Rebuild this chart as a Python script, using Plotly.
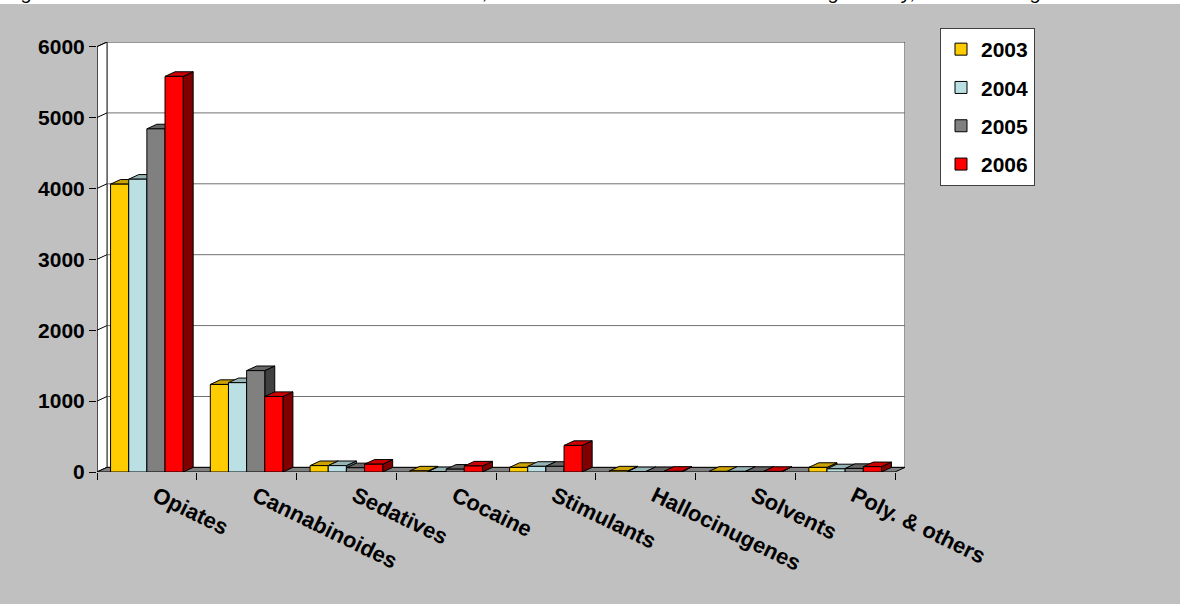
import plotly.graph_objects as go

# ---- data -------------------------------------------------------------
categories = ["Opiates", "Cannabinoides", "Sedatives", "Cocaine", "Stimulants",
              "Hallocinugenes", "Solvents", "Poly. & others"]
years = ["2003", "2004", "2005", "2006"]
values_2003 = [4060, 1235, 90, 15, 65, 15, 10, 65]
values_2004 = [4130, 1260, 90, 5, 80, 5, 10, 45]
values_2005 = [4840, 1430, 60, 40, 80, 5, 8, 50]
values_2006 = [5580, 1065, 110, 85, 375, 10, 8, 75]
y_ticks = [0, 1000, 2000, 3000, 4000, 5000, 6000]

series = [values_2003, values_2004, values_2005, values_2006]

# ---- styling ----------------------------------------------------------
front_colors = ["#FFCC00", "#BBE0E3", "#808080", "#FF0000"]
top_colors = ["#CCA300", "#96B3B6", "#666666", "#CC0000"]
side_colors = ["#806600", "#5E7072", "#404040", "#800000"]
BG = "#C0C0C0"
FONT = "Liberation Sans, Arial, sans-serif"

N = len(categories)
GROUP = 0.728            # width of a cluster, in category units
BW = GROUP / len(years)  # width of one column
DX = 0.1                 # depth offset (category units)
DY = 65                  # depth offset (value units)
X_LO, X_HI = -0.5, N - 0.5 + DX
Y_MAX = y_ticks[-1] + DY

fig = go.Figure()

# pseudo-3D columns: side face, top face, then front face for each year
for s, vals in enumerate(series):
    sx, sy, tx, ty, fx, fy = [], [], [], [], [], []
    for i, v in enumerate(vals):
        x0 = i - GROUP / 2 + s * BW
        x1 = x0 + BW
        sx += [x1, x1 + DX, x1 + DX, x1, x1, None]
        sy += [0, DY, v + DY, v, 0, None]
        tx += [x0, x1, x1 + DX, x0 + DX, x0, None]
        ty += [v, v, v + DY, v + DY, v, None]
        fx += [x0, x1, x1, x0, x0, None]
        fy += [0, 0, v, v, 0, None]
    for px, py, col in ((sx, sy, side_colors[s]), (tx, ty, top_colors[s]),
                        (fx, fy, front_colors[s])):
        fig.add_trace(go.Scatter(
            x=px, y=py, mode="lines", fill="toself", fillcolor=col,
            line=dict(color="black", width=1), showlegend=False,
            hoverinfo="skip"))

# legend entries
for s, yr in enumerate(years):
    fig.add_trace(go.Bar(
        x=[None], y=[None], name=yr, legendgroup=yr,
        marker=dict(color=front_colors[s], line=dict(color="black", width=1))))

# walls, floor and gridlines
shapes = []
shapes.append(dict(type="rect", xref="x", yref="y", x0=X_LO + DX, x1=X_HI,
                   y0=DY, y1=Y_MAX, fillcolor="white",
                   line=dict(color="#303030", width=1), layer="below"))
for v in y_ticks[1:-1]:
    shapes.append(dict(type="line", xref="x", yref="y", x0=X_LO + DX, x1=X_HI,
                       y0=v + DY, y1=v + DY,
                       line=dict(color="#707070", width=1), layer="below"))
shapes.append(dict(type="path", xref="x", yref="y",
                   path=f"M{X_LO},0 L{X_LO},{y_ticks[-1]} L{X_LO + DX},{Y_MAX} "
                        f"L{X_LO + DX},{DY} Z",
                   fillcolor="white", line=dict(color="#303030", width=1),
                   layer="below"))
for v in y_ticks:
    shapes.append(dict(type="line", xref="x", yref="y", x0=X_LO, x1=X_LO + DX,
                       y0=v, y1=v + DY, line=dict(color="black", width=1),
                       layer="below"))
shapes.append(dict(type="path", xref="x", yref="y",
                   path=f"M{X_LO},0 L{N - 0.5},0 L{X_HI},{DY} L{X_LO + DX},{DY} Z",
                   fillcolor="#808080", line=dict(color="black", width=1),
                   layer="below"))
shapes.append(dict(type="line", xref="x", yref="y", x0=X_LO, x1=X_LO,
                   y0=0, y1=y_ticks[-1], line=dict(color="black", width=1),
                   layer="below"))
# white strip holding the (clipped) caption at the very top
shapes.append(dict(type="rect", xref="paper", yref="paper", x0=-0.2, x1=1.5,
                   y0=(472 - 4) / 430, y1=1.3, fillcolor="white",
                   line=dict(width=0), layer="below"))

fig.update_layout(
    width=1180, height=604,
    margin=dict(l=97, r=275, t=42, b=132),
    paper_bgcolor=BG, plot_bgcolor=BG,
    shapes=shapes,
    font=dict(family=FONT, size=20, color="black"),
    showlegend=True,
    legend=dict(x=(940 - 97) / 808, y=(472 - 28) / 430, xanchor="left",
                yanchor="top", bgcolor="white", bordercolor="#404040",
                borderwidth=1, tracegroupgap=8,
                font=dict(family=FONT, size=21, color="black", weight="bold")),
    annotations=[dict(
        text="Figure 1: Number of treatment demands in 2003-2006, classified on "
             "the basis of the main drug at entry, total for all ages",
        xref="paper", yref="paper", x=(3 - 97) / 808, y=(472 - 5) / 430,
        xanchor="left", yanchor="bottom", showarrow=False,
        font=dict(family=FONT, size=20, color="black", style="italic"))],
)

fig.update_xaxes(
    range=[X_LO, X_HI], tickvals=list(range(N)), ticktext=categories,
    ticks="", tickangle=26, showgrid=False, zeroline=False, showline=False,
    ticklabelshift=9, ticklabelstandoff=6,
    tickfont=dict(family=FONT, size=22, color="black", weight="bold"),
    minor=dict(tickvals=[i - 0.5 for i in range(N + 1)], ticks="outside",
               ticklen=7, tickcolor="black", showgrid=False),
)
fig.update_yaxes(
    range=[0, Y_MAX], tickvals=y_ticks, ticks="outside", ticklen=7,
    tickcolor="black", showgrid=False, zeroline=False, showline=False,
    tickfont=dict(family=FONT, size=21, color="black", weight="bold"),
)

fig.write_html("out.html")
